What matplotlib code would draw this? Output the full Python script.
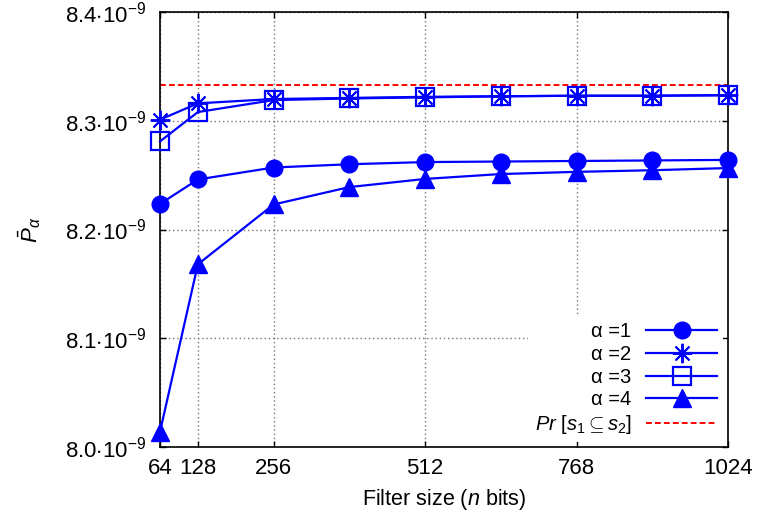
import numpy as np
import matplotlib
matplotlib.use("Agg")
import matplotlib.pyplot as plt

plt.rcParams['font.family'] = ['Liberation Sans', 'DejaVu Sans']
plt.rcParams['mathtext.fontset'] = 'custom'
plt.rcParams['mathtext.rm'] = 'Liberation Sans'
plt.rcParams['mathtext.it'] = 'Liberation Sans:italic'
plt.rcParams['mathtext.sf'] = 'Liberation Sans'

# filter sizes (bits)
n_bits = [64, 128, 256, 384, 512, 640, 768, 896, 1024]
xtick_vals = [64, 128, 256, 512, 768, 1024]

# values in units of 1e-9
p_a1 = [8.2235, 8.246, 8.257, 8.260, 8.262, 8.2625, 8.263, 8.2635, 8.264]
p_a2 = [8.301, 8.316, 8.320, 8.321, 8.322, 8.3225, 8.323, 8.323, 8.3235]
p_a3 = [8.281, 8.308, 8.319, 8.3205, 8.3215, 8.3225, 8.323, 8.323, 8.3235]
p_a4 = [8.014, 8.168, 8.223, 8.239, 8.2465, 8.251, 8.253, 8.2545, 8.2565]
pr_subset = 8.333

ytick_vals = [8.0, 8.1, 8.2, 8.3, 8.4]
ytick_labels = [r'%.1f$\cdot$10$^{-9}$' % v for v in ytick_vals]

fig = plt.figure(figsize=(7.59, 5.24), dpi=100)
ax = fig.add_axes([160/759, 1-447/524, (728-160)/759, (447-12)/524])

blue = '#0000ff'
lw = 1.6
ax.plot(n_bits, p_a1, color=blue, lw=lw, marker='o', ms=12, clip_on=False, zorder=3, label=u'\u03b1 =1')
ax.plot(n_bits, p_a2, color=blue, lw=lw, marker=(8, 2, 0), ms=14, mew=1.4, clip_on=False, zorder=3, label=u'\u03b1 =2')
ax.plot(n_bits, p_a3, color=blue, lw=lw, marker='s', ms=12.5, mfc='none', mew=1.6, clip_on=False, zorder=3, label=u'\u03b1 =3')
ax.plot(n_bits, p_a4, color=blue, lw=lw, marker='^', ms=13.5, clip_on=False, zorder=3, label=u'\u03b1 =4')
ax.plot([n_bits[0], n_bits[-1]], [pr_subset, pr_subset], color='red', lw=1.4, dashes=(3, 1.6), zorder=2,
        label=r'$Pr\ [s_1 \subseteq s_2]$')

ax.set_xlim(64, 1024)
ax.set_ylim(8.0, 8.4)
ax.set_xticks(xtick_vals)
ax.set_xticklabels([str(v) for v in xtick_vals])
ax.set_yticks(ytick_vals)
ax.set_yticklabels(ytick_labels)
ax.tick_params(direction='in', top=True, right=True, length=4.5, width=1, labelsize=16)
ax.tick_params(axis='x', pad=8)
ax.tick_params(axis='y', pad=10)
ax.grid(True, color='#777777', ls=(0, (1, 2)), lw=1)
for s in ax.spines.values():
    s.set_linewidth(1.2)

ax.set_xlabel(r'Filter size ($n$ bits)', fontsize=15.5, labelpad=6)
ax.set_ylabel(r'$\bar{P}_\alpha$', fontsize=16, labelpad=16)

leg = ax.legend(loc='lower right', bbox_to_anchor=(1.0, 0.0), fontsize=14.5, markerfirst=False,
                handlelength=3.5, handletextpad=0.75, labelspacing=0.18, borderpad=0.3,
                borderaxespad=0.25, frameon=True, fancybox=False, framealpha=1, edgecolor='none')
leg.get_frame().set_facecolor('white')

fig.savefig('out.png', dpi=100)
